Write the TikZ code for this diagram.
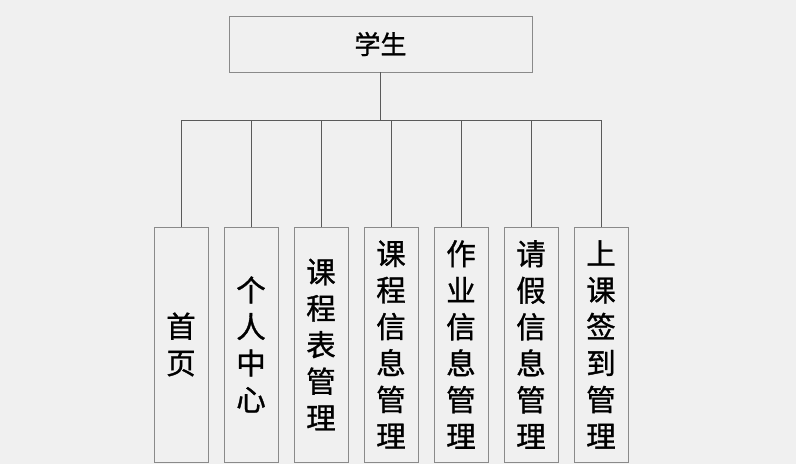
\documentclass[tikz,border=0pt]{standalone}
\usepackage{fontspec}
\setmainfont{Noto Sans CJK SC}
\newfontfamily\heiti{Noto Sans CJK SC}[FakeBold=1.1]
\usetikzlibrary{positioning}
\definecolor{bgray}{HTML}{F0F0F0}
\definecolor{edgegray}{HTML}{8A8A8A}
\definecolor{wiregray}{HTML}{5A5A5A}

\begin{document}
\begin{tikzpicture}[x=1pt, y=-1pt, node distance=16pt]
\tikzset{every node/.style={inner sep=0pt, outer sep=0pt},
         rootbox/.style={draw=edgegray, fill=bgray, minimum width=303pt, minimum height=56pt, font=\heiti\fontsize{26}{30}\selectfont},
         menubox/.style={draw=edgegray, fill=bgray, minimum width=54pt, minimum height=235pt, align=center, font=\heiti\fontsize{29.5}{36.5}\selectfont},
         wire/.style={draw=wiregray, line width=0.9pt}}
\fill[bgray] (0,0) rectangle (796,464);
\useasboundingbox (0,0) rectangle (796,464);
\node[rootbox]  (root) at (380.5,44)   {学生};
\node[menubox]  (m1)   at (181,344.5)  {首\\页};
\node[menubox]  (m2)   [right=of m1]   {个\\人\\中\\心};
\node[menubox]  (m3)   [right=of m2]   {课\\程\\表\\管\\理};
\node[menubox]  (m4)   [right=of m3]   {课\\程\\信\\息\\管\\理};
\node[menubox]  (m5)   [right=of m4]   {作\\业\\信\\息\\管\\理};
\node[menubox]  (m6)   [right=of m5]   {请\\假\\信\\息\\管\\理};
\node[menubox]  (m7)   [right=of m6]   {上\\课\\签\\到\\管\\理};
\coordinate (bus) at (root.south |- 0,120);
\path[wire] (root.south) -- (bus);
\path[wire] (m1.north |- bus) -- (m7.north |- bus);
\foreach \m in {m1,m2,m3,m4,m5,m6,m7}
    \path[wire] (\m.north |- bus) -- (\m.north);
\end{tikzpicture}
\end{document}
